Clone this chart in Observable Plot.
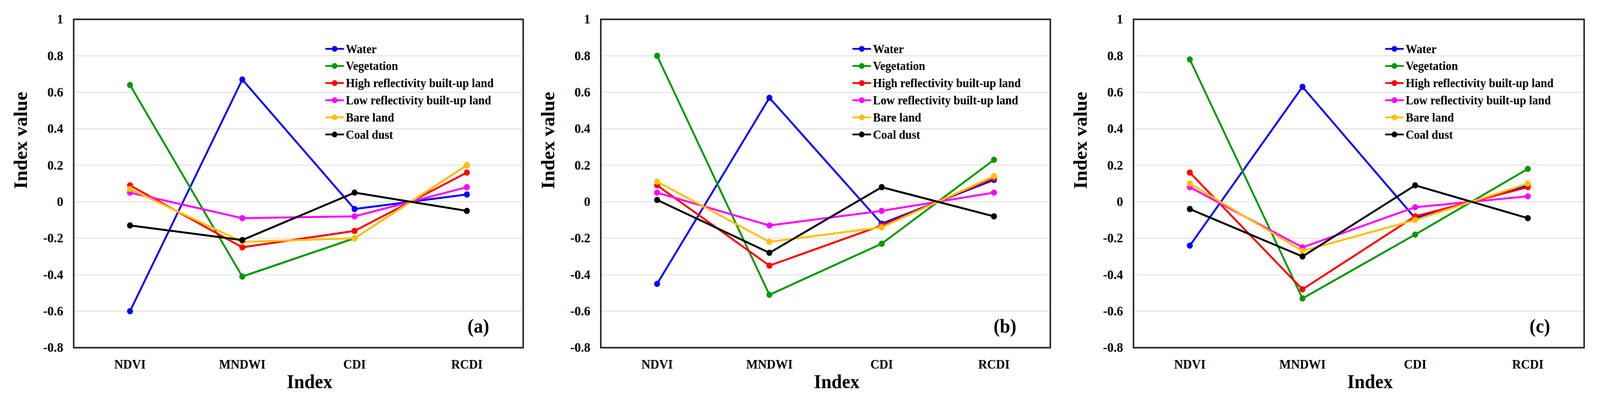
<!DOCTYPE html>
<html>
<head>
<meta charset="utf-8">
<script src="https://cdn.jsdelivr.net/npm/d3@7"></script>
<script src="https://cdn.jsdelivr.net/npm/@observablehq/plot@0.6"></script>
<style>
  html, body { margin: 0; padding: 0; background: #fff; overflow: hidden; }
  #fig { position: absolute; left: 0; top: 0; width: 4289px; height: 1031px; background: #fff; overflow: hidden; transform-origin: 0 0; }
  .panel { position: absolute; top: 0; }
  .legend { position: absolute; top: 0; left: 0; pointer-events: none; }
</style>
</head>
<body>
<div id="fig"></div>
<script>
// ---------- data ----------
const indices = ["NDVI", "MNDWI", "CDI", "RCDI"];
const classes = ["Water", "Vegetation", "High reflectivity built-up land",
                 "Low reflectivity built-up land", "Bare land", "Coal dust"];
const classColors = ["#0000ff", "#009900", "#ff0000", "#ff00ff", "#ffc000", "#000000"];
const yTicks = [-0.8, -0.6, -0.4, -0.2, 0, 0.2, 0.4, 0.6, 0.8, 1];
const panelLabels = ["(a)", "(b)", "(c)"];
const xTitle = "Index";
const yTitle = "Index value";

// panel (a)
const waterA      = [-0.60,  0.67, -0.04,  0.04];
const vegetationA = [ 0.64, -0.41, -0.20,  0.20];
const highBuiltA  = [ 0.09, -0.25, -0.16,  0.16];
const lowBuiltA   = [ 0.05, -0.09, -0.08,  0.08];
const bareA       = [ 0.07, -0.22, -0.20,  0.20];
const coalA       = [-0.13, -0.21,  0.05, -0.05];
// panel (b)
const waterB      = [-0.45,  0.57, -0.12,  0.12];
const vegetationB = [ 0.80, -0.51, -0.23,  0.23];
const highBuiltB  = [ 0.09, -0.35, -0.13,  0.13];
const lowBuiltB   = [ 0.05, -0.13, -0.05,  0.05];
const bareB       = [ 0.11, -0.22, -0.14,  0.14];
const coalB       = [ 0.01, -0.28,  0.08, -0.08];
// panel (c)
const waterC      = [-0.24,  0.63, -0.09,  0.09];
const vegetationC = [ 0.78, -0.53, -0.18,  0.18];
const highBuiltC  = [ 0.16, -0.48, -0.08,  0.08];
const lowBuiltC   = [ 0.08, -0.25, -0.03,  0.03];
const bareC       = [ 0.10, -0.27, -0.10,  0.10];
const coalC       = [-0.04, -0.30,  0.09, -0.09];

const panelSeries = [
  [waterA, vegetationA, highBuiltA, lowBuiltA, bareA, coalA],
  [waterB, vegetationB, highBuiltB, lowBuiltB, bareB, coalB],
  [waterC, vegetationC, highBuiltC, lowBuiltC, bareC, coalC]
];

// ---------- layout ----------
const FW = 4289, FH = 1031;
const panelLeft = [0, 1430, 2860];
const panelWidth = [1430, 1430, 1429];
const mLeft = [197, 180, 178];
const mRight = [28, 45, 43];
const mTop = 49, mBottom = 142;
const font = "'Liberation Serif', 'Times New Roman', Times, serif";

const fig = document.getElementById("fig");
const fmt = d => String(Math.round(d * 10) / 10);

function fit() {
  const sx = (window.innerWidth || FW) / FW;
  const sy = (window.innerHeight || FH) / FH;
  fig.style.transform = `scale(${sx}, ${sy})`;
}
fit();
window.addEventListener("resize", fit);

panelSeries.forEach((series, p) => {
  const seriesMarks = classes.flatMap((cls, k) => {
    const rows = indices.map((ix, j) => ({index: ix, value: series[k][j], cls}));
    return [
      Plot.line(rows, {x: "index", y: "value", stroke: classColors[k], strokeWidth: 5}),
      Plot.dot(rows, {x: "index", y: "value", fill: classColors[k], r: 8})
    ];
  });
  const chart = Plot.plot({
    width: panelWidth[p],
    height: FH,
    marginLeft: mLeft[p],
    marginRight: mRight[p],
    marginTop: mTop,
    marginBottom: mBottom,
    style: {fontFamily: font, fontWeight: "bold", background: "white", color: "#000", maxWidth: "none"},
    x: {type: "point", domain: indices, padding: 0.5},
    y: {domain: [-0.8, 1]},
    marks: [
      Plot.gridY(yTicks, {stroke: "#e6e6e6", strokeWidth: 3, strokeOpacity: 1}),
      ...seriesMarks,
      Plot.frame({stroke: "#222", strokeWidth: 4}),
      Plot.axisX({tickSize: 0, tickPadding: 30, fontSize: 33, label: null}),
      Plot.axisY(yTicks, {tickSize: 0, tickPadding: 28, fontSize: 34, tickFormat: fmt, label: null}),
      Plot.text([xTitle], {frameAnchor: "bottom", dx: 30, dy: 103, lineAnchor: "bottom", fontSize: 50}),
      Plot.text([yTitle], {frameAnchor: "left", rotate: -90, dx: -125, dy: 14, lineAnchor: "bottom", fontSize: 50}),
      Plot.text([panelLabels[p]], {frameAnchor: "bottom-right", dx: -91, dy: -55, lineAnchor: "middle", fontSize: 50})
    ]
  });
  chart.classList.add("panel");
  chart.style.left = panelLeft[p] + "px";
  fig.appendChild(chart);
});

// ---------- legends ----------
const legend = d3.select(fig).append("svg")
  .attr("class", "legend")
  .attr("width", FW).attr("height", FH);

panelSeries.forEach((series, p) => {
  const x0 = panelLeft[p] + mLeft[p] + 675;
  const g = legend.append("g").attr("transform", `translate(${x0},125)`);
  classes.forEach((cls, k) => {
    const row = g.append("g").attr("transform", `translate(0,${k * 43.8})`);
    row.append("line").attr("x1", 0).attr("x2", 50).attr("y1", 0).attr("y2", 0)
      .attr("stroke", classColors[k]).attr("stroke-width", 4.5);
    row.append("circle").attr("cx", 25).attr("cy", 0).attr("r", 7.5)
      .attr("fill", classColors[k]);
    row.append("text").attr("x", 55).attr("y", 0).attr("dy", "0.34em")
      .attr("font-family", font).attr("font-weight", "bold").attr("font-size", 31)
      .attr("fill", "#000").text(cls);
  });
});
</script>
</body>
</html>
